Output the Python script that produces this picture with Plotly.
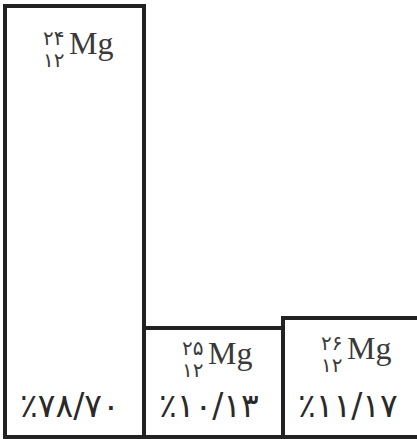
import plotly.graph_objects as go

# ---- data ----
isotopes = ["24Mg", "25Mg", "26Mg"]
mass_numbers = [24, 25, 26]
atomic_number = 12
abundance = [78.70, 10.13, 11.17]          # percent labels
bar_height = [78.70, 19.90, 21.64]         # drawn heights (illustrative, not to scale)

FA = str.maketrans("0123456789.", "۰۱۲۳۴۵۶۷۸۹/")
def fa(s):
    return str(s).translate(FA)

pct_labels = ["٪" + fa(f"{v:.2f}") for v in abundance]

# ---- layout constants ----
label_drop_px = [39, 27, 31.5]
LINE = "#222222"
MG_COL = "#3a3a3a"

fig = go.Figure()
fig.add_trace(go.Bar(
    x=list(range(len(isotopes))), y=bar_height, width=1.0,
    marker=dict(color="white", line=dict(color=LINE, width=4)),
    hoverinfo="skip", showlegend=False,
))

ann = []
for i, (m, h, p) in enumerate(zip(mass_numbers, bar_height, pct_labels)):
    d = label_drop_px[i]
    ann.append(dict(x=i, y=h, xref="x", yref="y", text="Mg", showarrow=False,
                    xanchor="left", yanchor="middle", xshift=-8, yshift=-d + 2,
                    font=dict(family="Liberation Serif", size=32, color=MG_COL)))
    ann.append(dict(x=i, y=h, xref="x", yref="y", text=fa(m), showarrow=False,
                    xanchor="right", yanchor="middle", xshift=-9, yshift=-d + 7,
                    font=dict(family="DejaVu Sans", size=20, color=MG_COL)))
    ann.append(dict(x=i, y=h, xref="x", yref="y", text=fa(atomic_number), showarrow=False,
                    xanchor="right", yanchor="middle", xshift=-9, yshift=-d - 15,
                    font=dict(family="DejaVu Sans", size=20, color=MG_COL)))
    ann.append(dict(x=i, y=0, xref="x", yref="y", text=p, showarrow=False,
                    xanchor="center", yanchor="middle", xshift=-5, yshift=32,
                    font=dict(family="DejaVu Sans", size=33, color="#2a2a2a")))

fig.update_layout(
    width=417, height=439, autosize=False,
    margin=dict(l=0, r=0, t=0, b=0),
    paper_bgcolor="white", plot_bgcolor="white",
    bargap=0,
    xaxis=dict(range=[-0.536, 2.464], visible=False, fixedrange=True),
    yaxis=dict(range=[-0.365, 79.795], visible=False, fixedrange=True),
    annotations=ann,
)
fig.write_html("out.html", config=dict(displayModeBar=False),
               post_script="document.body.style.margin='0';")
